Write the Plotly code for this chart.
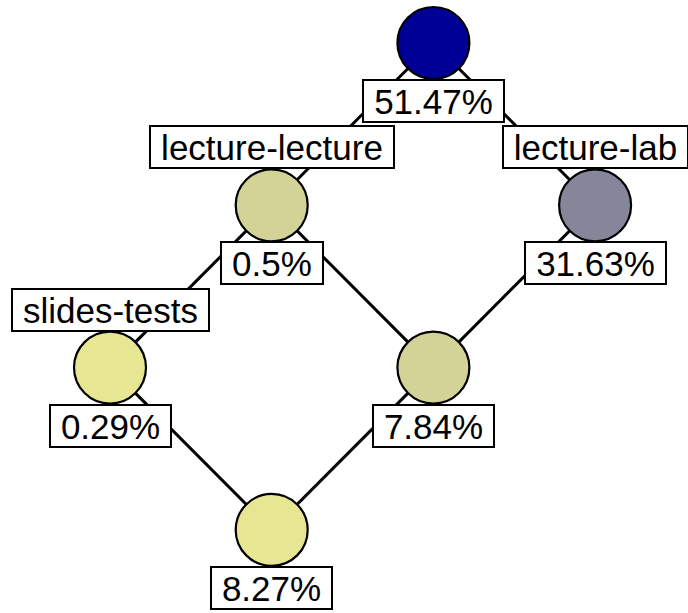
import plotly.graph_objects as go

# ---- data ----
node_ids = ["top", "lecture-lecture", "lecture-lab", "slides-tests", "mid", "bottom"]
node_names = ["", "lecture-lecture", "lecture-lab", "slides-tests", "", ""]
node_support = [51.47, 0.5, 31.63, 0.29, 7.84, 8.27]
node_colors = ["#000096", "#d3d398", "#86869a", "#e6e693", "#d3d398", "#e6e693"]
edges = [("top", "lecture-lecture"), ("top", "lecture-lab"),
         ("lecture-lecture", "slides-tests"), ("lecture-lecture", "mid"),
         ("lecture-lab", "mid"), ("slides-tests", "bottom"), ("mid", "bottom")]

# ---- diagram layout (grid column, row) ----
grid = {"top": (2, 0), "lecture-lecture": (1, 1), "lecture-lab": (3, 1),
        "slides-tests": (0, 2), "mid": (2, 2), "bottom": (1, 3)}

W, H = 688, 613
X0, Y0, STEP_X, STEP_Y = 110, 43, 161.7, 162.3
FONT = 35
# approximate Arial advance widths (em)
ADV = {"0": .556, "1": .556, "2": .556, "3": .556, "4": .556, "5": .556, "6": .556,
       "7": .556, "8": .556, "9": .556, ".": .278, "%": .889, "-": .333, "l": .222,
       "e": .556, "c": .5, "t": .278, "u": .556, "r": .333, "a": .556, "b": .556,
       "s": .5, "i": .222, "d": .556}


def box_width(txt):
    return round(sum(ADV.get(ch, .556) for ch in txt) * FONT + 20)


fig = go.Figure()

ex, ey = [], []
for a, b in edges:
    ex += [grid[a][0], grid[b][0], None]
    ey += [grid[a][1], grid[b][1], None]
fig.add_trace(go.Scatter(x=ex, y=ey, mode="lines",
                         line=dict(color="black", width=3), hoverinfo="skip"))

fig.add_trace(go.Scatter(
    x=[grid[n][0] for n in node_ids], y=[grid[n][1] for n in node_ids],
    mode="markers",
    marker=dict(size=72, color=node_colors, line=dict(color="black", width=2.2)),
    hovertext=node_ids, hoverinfo="text"))

annots = []
for nid, name, sup in zip(node_ids, node_names, node_support):
    cx, cy = grid[nid]
    labels = []
    if name:
        labels.append((name, 58))
    labels.append((f"{sup}%", -58))
    for txt, shift in labels:
        annots.append(dict(
            x=cx, y=cy, xref="x", yref="y", text=txt, showarrow=False,
            yshift=shift, font=dict(family="Liberation Sans, Arial", size=FONT, color="black"),
            bgcolor="white", bordercolor="black", borderwidth=2, borderpad=0,
            width=box_width(txt), height=40, align="center", valign="middle"))

fig.update_layout(
    width=W, height=H, margin=dict(l=0, r=0, t=0, b=0),
    paper_bgcolor="white", plot_bgcolor="white", showlegend=False,
    annotations=annots,
    xaxis=dict(range=[-X0 / STEP_X, (W - X0) / STEP_X], visible=False, fixedrange=True),
    yaxis=dict(range=[(H - Y0) / STEP_Y, -Y0 / STEP_Y], visible=False, fixedrange=True),
)

fig.write_html("out.html", config={"displayModeBar": False},
               post_script="document.body.style.margin='0';document.body.style.overflow='hidden';")
